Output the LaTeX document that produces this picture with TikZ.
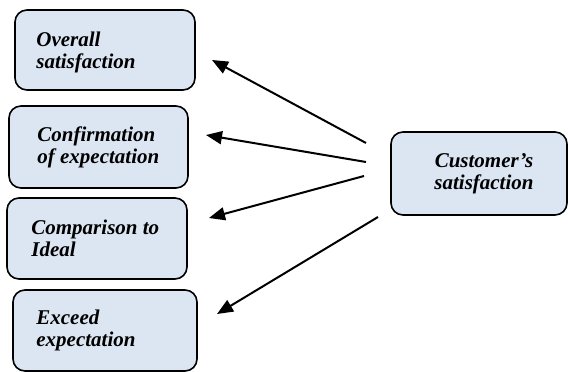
\documentclass[tikz,border=0pt]{standalone}
\usepackage{fontspec}
\setmainfont{Liberation Serif}
\usetikzlibrary{arrows.meta}
\definecolor{boxfill}{HTML}{DCE6F2}
\begin{document}
\begin{tikzpicture}[x=1pt,y=-1pt,
  box/.style={draw=black, line width=1.6pt, fill=boxfill, rounded corners=12pt},
  lbl/.style={font=\fontsize{21}{22}\selectfont\bfseries\itshape, inner sep=0pt, align=left},
  arr/.style={line width=2pt, -{Triangle[length=16pt,width=13pt]}}]
\useasboundingbox (0,0) rectangle (568,372);
\node[box, minimum width=180pt, minimum height=80pt] (b1) at (105,50) {};
\node[box, minimum width=179pt, minimum height=82pt] (b2) at (98.5,147) {};
\node[box, minimum width=180pt, minimum height=81pt] (b3) at (97,238.5) {};
\node[box, minimum width=184pt, minimum height=81pt] (b4) at (105,330.5) {};
\node[box, minimum width=176pt, minimum height=83pt] (b5) at (479,173.5) {};
\node[lbl, anchor=west] (l1) at ([xshift=22pt,yshift=-2pt]b1.west) {Overall\\satisfaction};
\node[lbl, anchor=west] (l2) at ([xshift=29pt]b2.west) {Confirmation\\of expectation};
\node[lbl, anchor=west] (l3) at ([xshift=25pt]b3.west) {Comparison to\\Ideal};
\node[lbl, anchor=west] (l4) at ([xshift=24pt]b4.west) {Exceed\\expectation};
\node[lbl, align=center] (l5) at ([xshift=5pt]b5.center) {Customer’s\\satisfaction};
\coordinate (s1) at (366,143);
\coordinate (s2) at (366,162);
\coordinate (s3) at (364,176);
\coordinate (s4) at (378,217);
\coordinate (t1) at (212,60);
\coordinate (t2) at (206,135);
\coordinate (t3) at (209,218);
\coordinate (t4) at (217,314);
\draw[arr] (s1) -- (t1);
\draw[arr] (s2) -- (t2);
\draw[arr] (s3) -- (t3);
\draw[arr] (s4) -- (t4);
\end{tikzpicture}
\end{document}
